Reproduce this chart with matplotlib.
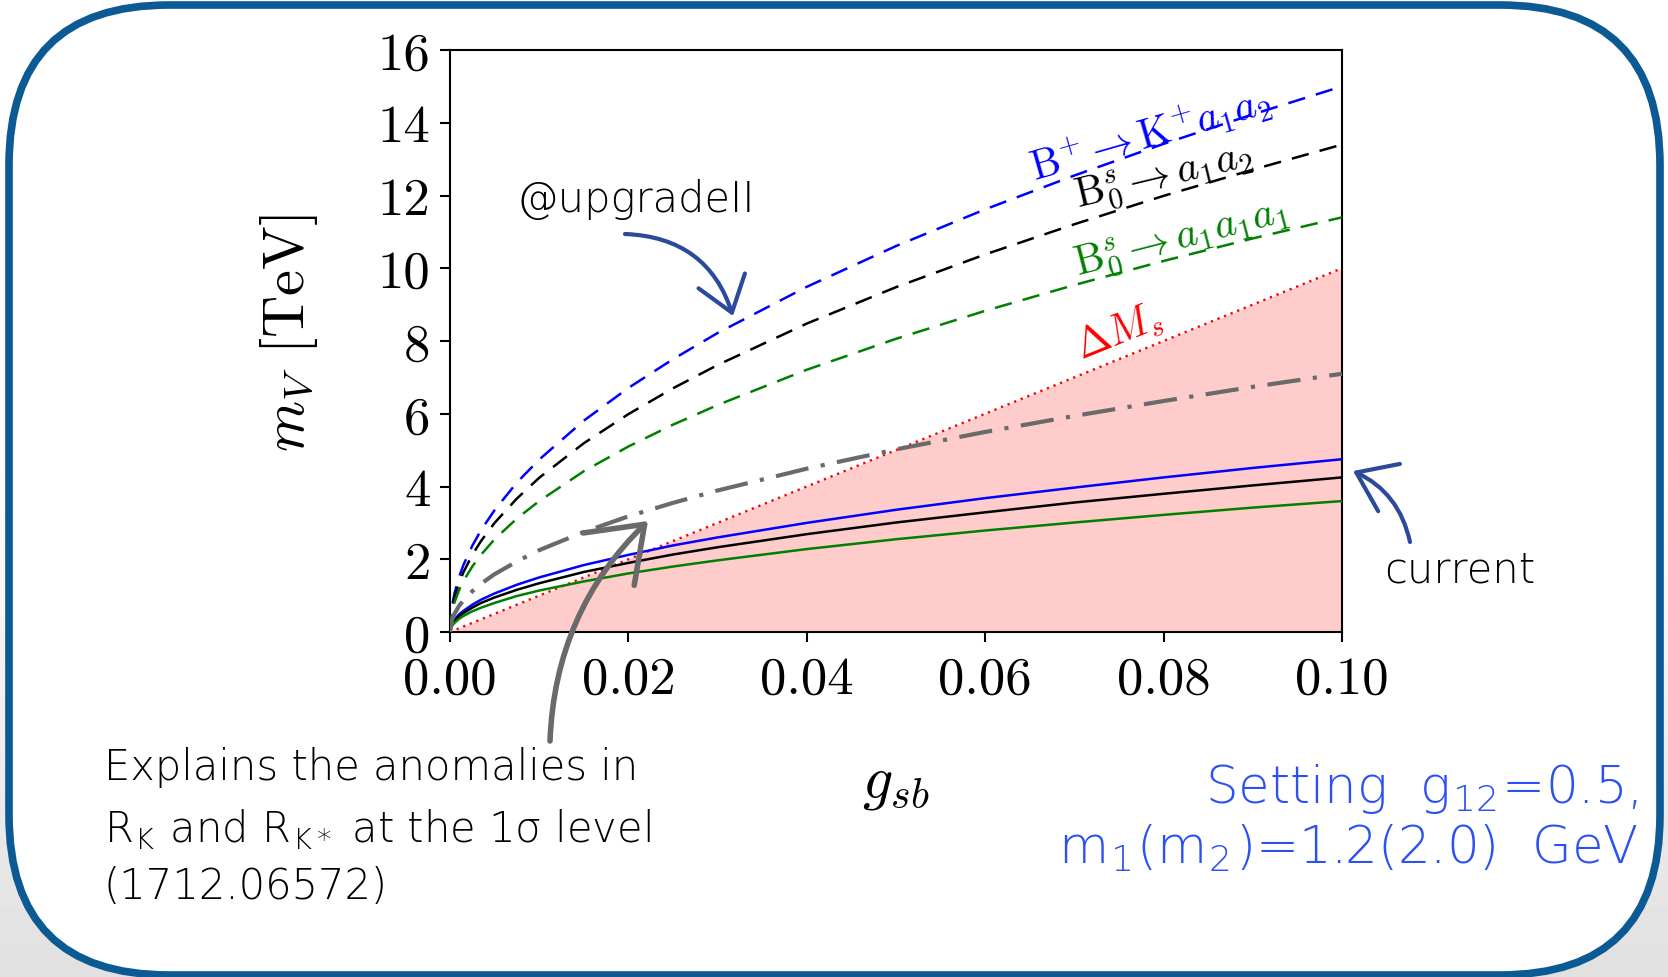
import numpy as np
import matplotlib
matplotlib.use('Agg')
import matplotlib.pyplot as plt
from matplotlib.patches import FancyBboxPatch

# ---------------- data ----------------
g_sb = [0.0, 0.0002, 0.0005, 0.001, 0.0015, 0.0025, 0.0035, 0.005, 0.0075, 0.01, 0.015,
        0.02, 0.025, 0.03, 0.04, 0.05, 0.06, 0.07, 0.08, 0.09, 0.10]

# @upgradeII projections (dashed)
upg_Bp_K_a1a2 = [0.0, 0.67, 1.06, 1.50, 1.84, 2.37, 2.81, 3.35, 4.11, 4.74, 5.81,
                 6.71, 7.50, 8.22, 9.49, 10.61, 11.62, 12.55, 13.42, 14.23, 15.00]
upg_B0s_a1a2 = [0.0, 0.60, 0.95, 1.34, 1.64, 2.12, 2.51, 3.00, 3.67, 4.24, 5.19,
                5.99, 6.70, 7.34, 8.48, 9.48, 10.38, 11.21, 11.99, 12.71, 13.40]
upg_B0s_a1a1a1 = [0.0, 0.51, 0.81, 1.14, 1.40, 1.80, 2.13, 2.55, 3.12, 3.60, 4.42,
                  5.10, 5.70, 6.24, 7.21, 8.06, 8.83, 9.54, 10.20, 10.82, 11.40]

# current limits (solid)
cur_Bp_K_a1a2 = [0.0, 0.21, 0.34, 0.48, 0.58, 0.75, 0.89, 1.06, 1.30, 1.50, 1.84,
                 2.12, 2.38, 2.60, 3.00, 3.36, 3.68, 3.97, 4.25, 4.51, 4.75]
cur_B0s_a1a2 = [0.0, 0.19, 0.30, 0.43, 0.52, 0.67, 0.80, 0.95, 1.16, 1.34, 1.65,
                1.90, 2.13, 2.33, 2.69, 3.01, 3.29, 3.56, 3.80, 4.03, 4.25]
cur_B0s_a1a1a1 = [0.0, 0.16, 0.25, 0.36, 0.44, 0.57, 0.67, 0.80, 0.99, 1.14, 1.39,
                  1.61, 1.80, 1.97, 2.28, 2.55, 2.79, 3.01, 3.22, 3.42, 3.60]

# R_K / R_K* anomaly explanation (dash-dot)
anomaly_1sigma = [0.0, 0.32, 0.50, 0.71, 0.87, 1.12, 1.33, 1.59, 1.94, 2.25, 2.75,
                  3.18, 3.55, 3.89, 4.49, 5.02, 5.50, 5.94, 6.35, 6.74, 7.10]

# Delta M_s bound (dotted, excluded region below)
dMs_g = [0.0, 0.10]
dMs_m = [0.0, 10.0]

x_ticks = [0.00, 0.02, 0.04, 0.06, 0.08, 0.10]
x_tick_labels = ['0.00', '0.02', '0.04', '0.06', '0.08', '0.10']
y_ticks = [0, 2, 4, 6, 8, 10, 12, 14, 16]
y_tick_labels = ['0', '2', '4', '6', '8', '10', '12', '14', '16']

# ---------------- style ----------------
plt.rcParams['font.family'] = 'serif'
plt.rcParams['font.serif'] = ['cmr10']
plt.rcParams['mathtext.fontset'] = 'cm'
plt.rcParams['axes.formatter.use_mathtext'] = True
plt.rcParams['axes.unicode_minus'] = False

W, H = 1668, 978
fig = plt.figure(figsize=(W / 100, H / 100), dpi=100)

# background (slide) axes in pixel units
ax_bg = fig.add_axes([0, 0, 1, 1], zorder=-10)
ax_bg.set_xlim(0, W)
ax_bg.set_ylim(H, 0)
ax_bg.axis('off')
grad = np.linspace(0, 1, 200)[:, None]
grad = 1.0 - 0.12 * np.clip((grad - 0.45) / 0.55, 0, 1)
ax_bg.imshow(grad, extent=[0, W, H, 0], cmap='gray', vmin=0, vmax=1, aspect='auto')
frame = FancyBboxPatch((9, 6), W - 17, H - 8,
                       boxstyle='round,pad=0,rounding_size=160',
                       fc='white', ec='#0b5a94', lw=5.5)
ax_bg.add_patch(frame)

# main axes
ax = fig.add_axes([450 / W, 1 - 633 / H, (1342 - 450) / W, (633 - 51) / H], zorder=1)

ax.fill_between(dMs_g, 0, dMs_m, color='#ffcccc', lw=0, zorder=1)
ax.plot(dMs_g, dMs_m, color='#ff0000', lw=1.7, dashes=(1, 2), zorder=3)

ax.plot(g_sb, upg_Bp_K_a1a2, color='#0000ff', lw=1.8, dashes=(7, 4.5), zorder=3)
ax.plot(g_sb, upg_B0s_a1a2, color='black', lw=1.8, dashes=(7, 4.5), zorder=3)
ax.plot(g_sb, upg_B0s_a1a1a1, color='#008000', lw=1.8, dashes=(7, 4.5), zorder=3)

ax.plot(g_sb, cur_Bp_K_a1a2, color='#0000ff', lw=1.8, zorder=3)
ax.plot(g_sb, cur_B0s_a1a2, color='black', lw=1.8, zorder=3)
ax.plot(g_sb, cur_B0s_a1a1a1, color='#008000', lw=1.8, zorder=3)

ax.plot(g_sb, anomaly_1sigma, color='#6a6a6a', lw=3.0, dashes=(8, 3, 1, 3), zorder=4)

ax.set_xlim(0, 0.1)
ax.set_ylim(0, 16)
ax.set_xticks(x_ticks)
ax.set_xticklabels(x_tick_labels)
ax.set_yticks(y_ticks)
ax.set_yticklabels(y_tick_labels)
ax.tick_params(axis='both', direction='out', length=7, width=1.5, labelsize=38)
ax.tick_params(axis='x', pad=10)
ax.tick_params(axis='y', pad=7)
for s in ax.spines.values():
    s.set_linewidth(1.5)

ax.set_ylabel(r'$m_V$ [TeV]', fontsize=42)
ax.yaxis.set_label_coords(-0.146, 0.515)
ax.text(0.5, -0.262, r'$g_{sb}$', transform=ax.transAxes, ha='center', va='center', fontsize=43)

lab_kw = dict(ha='center', va='center', rotation_mode='anchor', fontsize=30)
ax.text(0.0785, 13.70, r'$\mathrm{B}^{+}\to\mathrm{K}^{+}a_1a_2$', color='#0000ff', rotation=16, **lab_kw)
ax.text(0.0800, 12.50, r'$\mathrm{B}_0^{s}\to a_1a_2$', color='black', rotation=13.5, **lab_kw)
ax.text(0.0820, 10.80, r'$\mathrm{B}_0^{s}\to a_1a_1a_1$', color='#008000', rotation=14.5, **lab_kw)
ax.text(0.0750, 8.25, r'$\Delta M_s$', color='#ff0000', rotation=22, **lab_kw)

# overlay axes for handwritten annotations (pixel units)
ax_ov = fig.add_axes([0, 0, 1, 1], zorder=10)
ax_ov.set_xlim(0, W)
ax_ov.set_ylim(H, 0)
ax_ov.axis('off')
ax_ov.patch.set_alpha(0)

hand = dict(family='DejaVu Sans', fontsize=30, fontweight='light')
blue_hand = dict(family='DejaVu Sans', fontsize=37, fontweight='light')
ax_ov.text(636, 200, '@upgradeII', ha='center', va='center', color='black', **hand)
ax_ov.text(1460, 570, 'current', ha='center', va='center', color='black', **hand)
ax_ov.text(104, 768, 'Explains the anomalies in', ha='left', va='center', color='black', **hand)
ax_ov.text(104, 830, r'R$_{\mathregular{K}}$ and R$_{\mathregular{K*}}$ at the 1σ level',
           ha='left', va='center', color='black', **hand)
ax_ov.text(104, 886, '(1712.06572)', ha='left', va='center', color='black', **hand)
ax_ov.text(1638, 789, r'Setting  g$_{\mathregular{12}}$=0.5,', ha='right', va='center',
           color='#2b50f5', **blue_hand)
ax_ov.text(1638, 848, r'm$_{\mathregular{1}}$(m$_{\mathregular{2}}$)=1.2(2.0)  GeV', ha='right',
           va='center', color='#2b50f5', **blue_hand)

arr_blue = '#2b4a9c'
ax_ov.annotate('', xy=(733, 317), xytext=(625, 235),
               arrowprops=dict(arrowstyle='->,head_length=1.0,head_width=0.73', mutation_scale=24,
                               connectionstyle='arc3,rad=-0.35', lw=3, color=arr_blue,
                               shrinkA=0, shrinkB=0))
ax_ov.annotate('', xy=(1353, 472), xytext=(1410, 543),
               arrowprops=dict(arrowstyle='->,head_length=1.0,head_width=0.72', mutation_scale=26,
                               connectionstyle='arc3,rad=0.25', lw=3, color=arr_blue,
                               shrinkA=0, shrinkB=0))
ax_ov.annotate('', xy=(648, 522), xytext=(550, 742),
               arrowprops=dict(arrowstyle='->,head_length=1.0,head_width=0.73', mutation_scale=36,
                               connectionstyle='arc3,rad=-0.2', lw=4, color='#6a6a6a',
                               shrinkA=0, shrinkB=0))

fig.savefig('out.png', dpi=100)
